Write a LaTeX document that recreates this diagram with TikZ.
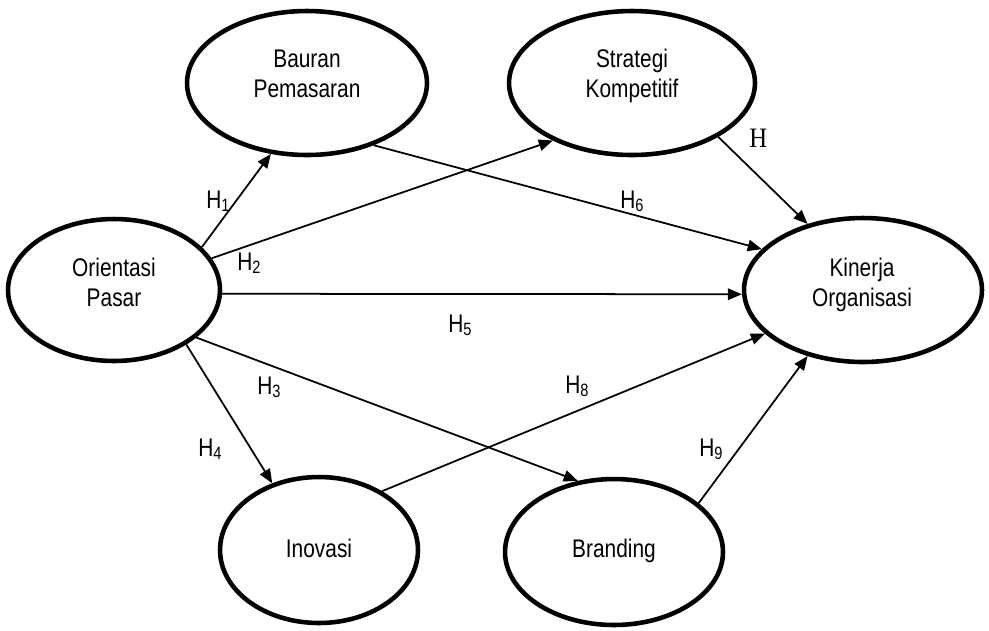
\documentclass[tikz,border=0pt]{standalone}
\usepackage{fontspec}
\setmainfont{Liberation Sans}[FakeStretch=0.82]
\newfontfamily\hserif{Liberation Serif}[FakeStretch=0.88]
\usetikzlibrary{shapes.geometric,arrows.meta}
\begin{document}
\begin{tikzpicture}[x=0.02cm,y=-0.02cm,
  var/.style={ellipse,draw,line width=2.6pt,inner sep=0pt},
  txt/.style={font=\fontsize{14.5}{17}\selectfont,align=center,inner sep=0pt},
  hyp/.style={font=\fontsize{14.5}{17}\selectfont,inner sep=0pt,anchor=base west},
  link/.style={line width=1pt,-{Triangle[length=8pt,width=6.5pt]}}]
\useasboundingbox (0,0) rectangle (989,630);

% latent variables
\node[var,minimum width=4.24cm,minimum height=2.84cm] (o)  at (114,290) {};
\node[var,minimum width=4.8cm, minimum height=2.88cm] (b)  at (307,83)  {};
\node[var,minimum width=4.92cm,minimum height=2.88cm] (s)  at (632,83)  {};
\node[var,minimum width=4.76cm,minimum height=2.88cm] (k)  at (863,290) {};
\node[var,minimum width=3.96cm,minimum height=2.92cm] (i)  at (319,550) {};
\node[var,minimum width=4.36cm,minimum height=2.92cm] (br) at (614,552) {};

% variable names
\node[txt] (o-t)  at (114,285) {\vphantom{Ag}Orientasi\\\vphantom{Ag}Pasar};
\node[txt] (b-t)  at (307,76)  {\vphantom{Ag}Bauran\\\vphantom{Ag}Pemasaran};
\node[txt] (s-t)  at (632,76)  {\vphantom{Ag}Strategi\\\vphantom{Ag}Kompetitif};
\node[txt] (k-t)  at (862,285) {\vphantom{Ag}Kinerja\\\vphantom{Ag}Organisasi};
\node[txt] (i-t)  at (319,551) {\vphantom{Ag}Inovasi};
\node[txt] (br-t) at (614,551) {\vphantom{Ag}Branding};

% hypothesised paths
\draw[link] (o.26)  -- (b.243);
\draw[link] (o.18)  -- (s.216);
\draw[link] (s.328) -- (k.130);
\draw[link] (b.317) -- (k.158);
\draw[link] (o.358) -- (k.182);
\draw[link] (o.330) -- (br.117);
\draw[link] (o.323) -- (i.125);
\draw[link] (i.43)  -- (k.204);
\draw[link] (br.30) -- (k.230);

% path labels
\node[hyp] (h1) at (206,208) {H\textsubscript{1}};
\node[hyp] (h2) at (237,270) {H\textsubscript{2}};
\node[hyp] (h3) at (257,394) {H\textsubscript{3}};
\node[hyp] (h4) at (198,456) {H\textsubscript{4}};
\node[hyp] (h5) at (448,332) {H\textsubscript{5}};
\node[hyp] (h6) at (620,208) {H\textsubscript{6}};
\node[hyp] (h8) at (565,393) {H\textsubscript{8}};
\node[hyp] (h9) at (699,456) {H\textsubscript{9}};
\node[inner sep=0pt,anchor=base west,font=\hserif\fontsize{16}{18}\selectfont] (h7) at (749,147) {H};
\end{tikzpicture}
\end{document}
